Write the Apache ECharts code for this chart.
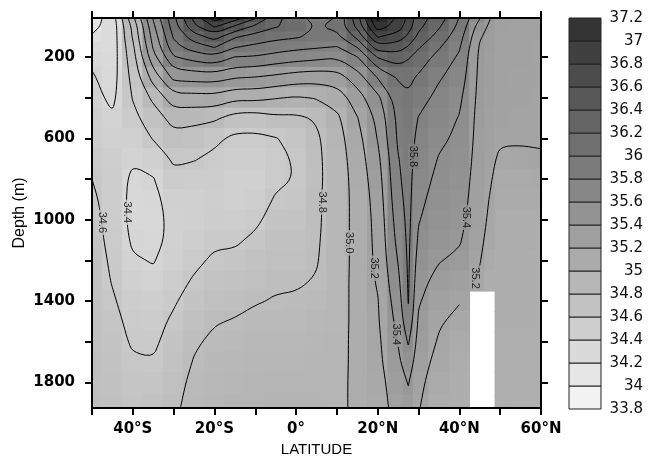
<!DOCTYPE html>
<html>
<head>
<meta charset="utf-8">
<title>Salinity section</title>
<script src="https://cdn.jsdelivr.net/npm/echarts@6/dist/echarts.min.js"></script>
<style>
  html, body { margin: 0; padding: 0; background: #fff; }
  #chart { width: 650px; height: 464px; }
</style>
</head>
<body>
<div id="chart"></div>
<script>
// grid nodes of the section
var lats = [-50, -45, -40, -35, -30, -25, -20, -15, -10, -5, 0, 5, 10, 15, 20, 25, 27.5, 30, 35, 40, 45, 47.5, 50, 55, 60];
var depths = [7, 50, 100, 150, 200, 300, 400, 500, 600, 700, 800, 900, 1000, 1100, 1200, 1300, 1400, 1500, 1600, 1700, 1800, 1925];

// salinity profiles, one per latitude (same order as lats), values at each depth
var salinity = [
  [34.10, 34.15, 34.22, 34.30, 34.36, 34.42, 34.46, 34.50, 34.53, 34.57, 34.60, 34.63, 34.65, 34.67, 34.69, 34.70, 34.71, 34.72, 34.73, 34.74, 34.75, 34.76], // 50S
  [34.30, 34.28, 34.28, 34.29, 34.30, 34.32, 34.36, 34.42, 34.46, 34.50, 34.52, 34.53, 34.54, 34.55, 34.57, 34.59, 34.62, 34.65, 34.67, 34.70, 34.72, 34.74], // 45S
  [34.95, 34.85, 34.82, 34.76, 34.72, 34.66, 34.61, 34.55, 34.48, 34.42, 34.36, 34.34, 34.34, 34.37, 34.42, 34.47, 34.52, 34.55, 34.58, 34.62, 34.65, 34.68], // 40S
  [35.62, 35.55, 35.48, 35.42, 35.33, 35.08, 34.84, 34.70, 34.61, 34.47, 34.39, 34.35, 34.34, 34.35, 34.39, 34.44, 34.50, 34.54, 34.57, 34.61, 34.66, 34.70], // 35S
  [36.15, 36.10, 36.02, 35.93, 35.78, 35.45, 35.12, 34.87, 34.74, 34.63, 34.55, 34.48, 34.45, 34.45, 34.48, 34.53, 34.58, 34.63, 34.67, 34.71, 34.74, 34.77], // 30S
  [36.65, 36.55, 36.30, 36.10, 35.88, 35.47, 35.12, 34.86, 34.70, 34.61, 34.53, 34.48, 34.47, 34.50, 34.56, 34.62, 34.68, 34.73, 34.78, 34.81, 34.84, 34.86], // 25S
  [37.10, 36.81, 36.48, 36.21, 35.95, 35.48, 35.13, 34.83, 34.64, 34.56, 34.52, 34.51, 34.52, 34.57, 34.63, 34.69, 34.75, 34.79, 34.83, 34.86, 34.88, 34.90], // 20S
  [36.90, 36.56, 36.22, 36.01, 35.79, 35.41, 35.04, 34.72, 34.56, 34.50, 34.48, 34.48, 34.50, 34.57, 34.65, 34.70, 34.76, 34.81, 34.85, 34.88, 34.90, 34.92], // 15S
  [36.62, 36.35, 36.12, 35.95, 35.78, 35.39, 35.05, 34.70, 34.56, 34.50, 34.48, 34.50, 34.56, 34.64, 34.70, 34.75, 34.79, 34.84, 34.87, 34.89, 34.91, 34.93], // 10S
  [36.25, 36.21, 36.05, 35.90, 35.72, 35.35, 35.01, 34.76, 34.59, 34.55, 34.56, 34.62, 34.68, 34.72, 34.75, 34.78, 34.81, 34.84, 34.87, 34.90, 34.92, 34.94], // 5S
  [36.10, 36.15, 36.02, 35.85, 35.68, 35.30, 34.98, 34.76, 34.66, 34.62, 34.61, 34.64, 34.68, 34.72, 34.75, 34.78, 34.82, 34.85, 34.88, 34.90, 34.92, 34.94], // 0
  [35.90, 35.98, 35.95, 35.82, 35.65, 35.28, 35.01, 34.82, 34.77, 34.76, 34.76, 34.77, 34.77, 34.78, 34.79, 34.81, 34.84, 34.87, 34.89, 34.91, 34.93, 34.95], // 5N
  [36.02, 36.05, 35.95, 35.79, 35.61, 35.31, 35.08, 34.96, 34.92, 34.90, 34.89, 34.89, 34.89, 34.89, 34.89, 34.90, 34.90, 34.90, 34.91, 34.91, 34.92, 34.92], // 10N
  [36.52, 36.45, 36.25, 36.01, 35.79, 35.50, 35.31, 35.19, 35.13, 35.10, 35.08, 35.07, 35.07, 35.07, 35.07, 35.07, 35.07, 35.07, 35.07, 35.07, 35.07, 35.07], // 15N
  [37.25, 37.10, 36.81, 36.52, 36.21, 35.81, 35.55, 35.45, 35.41, 35.35, 35.31, 35.28, 35.26, 35.25, 35.24, 35.22, 35.19, 35.18, 35.16, 35.15, 35.13, 35.12], // 20N
  [36.95, 36.90, 36.71, 36.49, 36.31, 36.02, 35.91, 35.85, 35.83, 35.79, 35.77, 35.74, 35.70, 35.66, 35.61, 35.56, 35.51, 35.46, 35.41, 35.36, 35.31, 35.27], // 25N
  [36.75, 36.69, 36.55, 36.38, 36.22, 36.05, 35.97, 35.93, 35.90, 35.88, 35.87, 35.86, 35.85, 35.84, 35.83, 35.82, 35.81, 35.75, 35.62, 35.52, 35.41, 35.35], // 27.5N
  [36.48, 36.45, 36.35, 36.22, 36.12, 35.97, 35.88, 35.79, 35.74, 35.71, 35.67, 35.64, 35.61, 35.57, 35.52, 35.47, 35.42, 35.37, 35.33, 35.28, 35.24, 35.21], // 30N
  [36.31, 36.22, 36.12, 36.02, 35.93, 35.82, 35.74, 35.68, 35.63, 35.59, 35.56, 35.53, 35.50, 35.46, 35.41, 35.33, 35.27, 35.22, 35.18, 35.14, 35.11, 35.08], // 35N
  [35.99, 35.95, 35.88, 35.82, 35.77, 35.71, 35.64, 35.59, 35.57, 35.54, 35.52, 35.49, 35.46, 35.42, 35.36, 35.28, 35.21, 35.15, 35.10, 35.07, 35.05, 35.04], // 40N
  [35.61, 35.50, 35.42, 35.38, 35.36, 35.35, 35.34, 35.33, 35.32, 35.31, 35.29, 35.28, 35.26, 35.24, 35.21, 35.17, null, null, null, null, null, null], // 45N
  [35.41, 35.36, 35.33, 35.31, 35.29, 35.29, 35.28, 35.27, 35.26, 35.24, 35.22, 35.19, 35.17, 35.14, 35.10, 35.06, null, null, null, null, null, null], // 47.5N
  [35.27, 35.26, 35.25, 35.25, 35.24, 35.24, 35.23, 35.23, 35.22, 35.17, 35.12, 35.09, 35.07, 35.06, 35.05, 35.05, 35.04, 35.04, 35.03, 35.03, 35.03, 35.02], // 50N
  [35.25, 35.25, 35.24, 35.24, 35.24, 35.23, 35.23, 35.22, 35.21, 35.18, 35.12, 35.09, 35.07, 35.06, 35.05, 35.05, 35.04, 35.04, 35.03, 35.03, 35.03, 35.02], // 55N
  [35.24, 35.24, 35.24, 35.23, 35.23, 35.23, 35.22, 35.22, 35.21, 35.19, 35.13, 35.09, 35.07, 35.06, 35.05, 35.05, 35.04, 35.04, 35.03, 35.03, 35.03, 35.02]  // 60N
];

// colour bar steps, also the contour levels
var levels = [33.8, 34.0, 34.2, 34.4, 34.6, 34.8, 35.0, 35.2, 35.4, 35.6, 35.8, 36.0, 36.2, 36.4, 36.6, 36.8, 37.0, 37.2];
var latTicks = [-40, -20, 0, 20, 40, 60];
var latTickText = ['40°S', '20°S', '0°', '20°N', '40°N', '60°N'];
var depthTicks = [200, 400, 600, 800, 1000, 1200, 1400, 1600, 1800];
var depthLabels = [200, 600, 1000, 1400, 1800];
// contour labels: level, and roughly where along the line it sits (lat, depth)
var contourLabels = [
  [34.6, -48.5, 1010], [34.4, -41.5, 960], [34.8, 6.5, 920], [35.0, 13.5, 1120],
  [35.2, 18.5, 1240], [35.4, 24.5, 1560], [35.8, 27, 690], [35.4, 41.5, 1000], [35.2, 40, 1250]
];

function gray(v) {
  var g = Math.round(242 - (v - 33.9) * 59.375);
  g = Math.max(40, Math.min(245, g));
  return 'rgb(' + g + ',' + g + ',' + g + ')';
}

// shaded cells around each grid node
var cellData = [];
for (var i = 0; i < lats.length; i++) {
  for (var j = 0; j < depths.length; j++) {
    var v = salinity[i][j];
    if (v == null) continue;
    var x0 = i === 0 ? lats[0] : (lats[i - 1] + lats[i]) / 2;
    var x1 = i === lats.length - 1 ? lats[i] : (lats[i] + lats[i + 1]) / 2;
    var y0 = j === 0 ? depths[0] : (depths[j - 1] + depths[j]) / 2;
    var y1 = j === depths.length - 1 ? depths[j] : (depths[j] + depths[j + 1]) / 2;
    cellData.push([x0, y0, x1, y1, v]);
  }
}

// marching squares on the node grid
function contourSegments(L) {
  var segs = [];
  for (var i = 0; i < lats.length - 1; i++) {
    for (var j = 0; j < depths.length - 1; j++) {
      var a = salinity[i][j], b = salinity[i + 1][j], c = salinity[i + 1][j + 1], d = salinity[i][j + 1];
      if (a == null || b == null || c == null || d == null) continue;
      var top = null, right = null, bottom = null, left = null;
      if ((a >= L) !== (b >= L)) {
        var t = (L - a) / (b - a);
        top = { key: 'h' + i + '_' + j, p: [lats[i] + t * (lats[i + 1] - lats[i]), depths[j]] };
      }
      if ((b >= L) !== (c >= L)) {
        var t2 = (L - b) / (c - b);
        right = { key: 'v' + (i + 1) + '_' + j, p: [lats[i + 1], depths[j] + t2 * (depths[j + 1] - depths[j])] };
      }
      if ((d >= L) !== (c >= L)) {
        var t3 = (L - d) / (c - d);
        bottom = { key: 'h' + i + '_' + (j + 1), p: [lats[i] + t3 * (lats[i + 1] - lats[i]), depths[j + 1]] };
      }
      if ((a >= L) !== (d >= L)) {
        var t4 = (L - a) / (d - a);
        left = { key: 'v' + i + '_' + j, p: [lats[i], depths[j] + t4 * (depths[j + 1] - depths[j])] };
      }
      var e = [top, right, bottom, left].filter(function (x) { return x; });
      if (e.length === 2) {
        segs.push([e[0], e[1]]);
      } else if (e.length === 4) {
        var centre = (a + b + c + d) / 4;
        if ((centre >= L) === (a >= L)) {
          segs.push([top, right]); segs.push([bottom, left]);
        } else {
          segs.push([top, left]); segs.push([right, bottom]);
        }
      }
    }
  }
  return segs;
}

function chainSegments(segs) {
  var byKey = {}, used = [], lines = [];
  segs.forEach(function (s, n) {
    s.forEach(function (q) { (byKey[q.key] = byKey[q.key] || []).push(n); });
  });
  function extend(pts) {
    while (true) {
      var last = pts[pts.length - 1];
      var cand = byKey[last.key].filter(function (n) { return !used[n]; });
      if (!cand.length) break;
      used[cand[0]] = true;
      var s = segs[cand[0]];
      pts.push(s[0].key === last.key ? s[1] : s[0]);
    }
  }
  for (var n = 0; n < segs.length; n++) {
    if (used[n]) continue;
    used[n] = true;
    var pts = [segs[n][0], segs[n][1]];
    extend(pts);
    pts.reverse();
    extend(pts);
    var closed = pts.length > 2 && pts[0].key === pts[pts.length - 1].key;
    lines.push(smooth(pts.map(function (q) { return q.p; }), closed));
  }
  return lines;
}

// two rounds of corner cutting so the lines are not angular
function smooth(pts, closed) {
  if (closed) pts = pts.slice(0, -1);
  for (var r = 0; r < 2; r++) {
    var n = pts.length;
    if (n < 3) break;
    var out = closed ? [] : [pts[0]];
    var m = closed ? n : n - 1;
    for (var k = 0; k < m; k++) {
      var a = pts[k], b = pts[(k + 1) % n];
      out.push([0.75 * a[0] + 0.25 * b[0], 0.75 * a[1] + 0.25 * b[1]]);
      out.push([0.25 * a[0] + 0.75 * b[0], 0.25 * a[1] + 0.75 * b[1]]);
    }
    if (!closed) out.push(pts[n - 1]);
    pts = out;
  }
  if (closed) pts = pts.concat([pts[0]]);
  return pts;
}

var contourLines = [];
var linesByLevel = {};
levels.slice(1).forEach(function (L) {
  var ls = chainSegments(contourSegments(L));
  linesByLevel[L.toFixed(1)] = ls;
  ls.forEach(function (c) { contourLines.push({ coords: c }); });
});

// put each label on the nearest point of its contour
var labelData = [];
contourLabels.forEach(function (cl) {
  var ls = linesByLevel[cl[0].toFixed(1)] || [];
  var best = null, bestD = Infinity;
  ls.forEach(function (line) {
    line.forEach(function (p) {
      var dx = (p[0] - cl[1]) * 4.08, dy = (p[1] - cl[2]) * 0.203;
      var dd = dx * dx + dy * dy;
      if (dd < bestD) { bestD = dd; best = p; }
    });
  });
  if (best) {
    labelData.push({
      value: best,
      label: { formatter: cl[0].toFixed(1), backgroundColor: gray(cl[0]) }
    });
  }
});

var bands = [];
for (var k = 0; k < levels.length - 1; k++) bands.push([levels[k], levels[k + 1]]);

var frameLine = { show: true, onZero: false, lineStyle: { color: '#000', width: 2 } };
var frameTick = { show: true, length: 7, lineStyle: { color: '#000', width: 2 } };
var tickFont = { fontFamily: 'DejaVu Sans', fontWeight: 'bold', fontSize: 15, color: '#000' };

var chart = echarts.init(document.getElementById('chart'));
chart.setOption({
  animation: false,
  backgroundColor: '#fff',
  grid: [
    { left: 92, right: 109, top: 18, bottom: 56, containLabel: false, outerBoundsMode: 'none' },
    { left: 569, right: 49, top: 18, bottom: 55, containLabel: false, outerBoundsMode: 'none' }
  ],
  xAxis: [
    {
      gridIndex: 0, type: 'value', position: 'bottom', min: -50, max: 60, interval: 10, z: 10,
      axisLine: frameLine, axisTick: frameTick, splitLine: { show: false },
      axisLabel: Object.assign({
        customValues: latTicks, margin: 14,
        formatter: function (v) { var n = latTicks.indexOf(v); return n < 0 ? '' : latTickText[n]; }
      }, tickFont),
      name: 'LATITUDE', nameLocation: 'middle', nameGap: 34, nameMoveOverlap: false,
      nameTextStyle: { fontFamily: 'Liberation Sans', fontSize: 15, color: '#000' }
    },
    {
      gridIndex: 0, type: 'value', position: 'top', min: -50, max: 60, interval: 10, z: 10,
      axisLine: frameLine, axisTick: frameTick, axisLabel: { show: false }, splitLine: { show: false }
    },
    { gridIndex: 1, type: 'value', min: 0, max: 1, show: false }
  ],
  yAxis: [
    {
      gridIndex: 0, type: 'value', position: 'left', inverse: true, min: 7, max: 1925, z: 10,
      axisLine: frameLine, splitLine: { show: false },
      axisTick: Object.assign({ customValues: depthTicks }, frameTick),
      axisLabel: Object.assign({
        customValues: depthLabels, margin: 17,
        formatter: function (v) { return String(Math.round(v)); }
      }, tickFont),
      name: 'Depth (m)', nameLocation: 'middle', nameGap: 64, nameMoveOverlap: false,
      nameTextStyle: { fontFamily: 'Liberation Sans', fontSize: 16, color: '#000' }
    },
    {
      gridIndex: 0, type: 'value', position: 'right', inverse: true, min: 7, max: 1925, z: 10,
      axisLine: frameLine, splitLine: { show: false },
      axisTick: Object.assign({ customValues: depthTicks }, frameTick),
      axisLabel: { show: false }
    },
    {
      gridIndex: 1, type: 'value', position: 'right', min: 33.8, max: 37.2,
      axisLine: { show: false }, axisTick: { show: false }, splitLine: { show: false },
      axisLabel: {
        customValues: levels, margin: 42, align: 'right',
        fontFamily: 'DejaVu Sans', fontSize: 15, color: '#111',
        formatter: function (v) { return String(+(+v).toFixed(1)); }
      }
    }
  ],
  series: [
    {
      type: 'custom', xAxisIndex: 0, yAxisIndex: 0, silent: true, clip: true, z: 1,
      data: cellData,
      renderItem: function (params, api) {
        var p0 = api.coord([api.value(0), api.value(1)]);
        var p1 = api.coord([api.value(2), api.value(3)]);
        return {
          type: 'rect',
          shape: {
            x: Math.min(p0[0], p1[0]) - 0.5, y: Math.min(p0[1], p1[1]) - 0.5,
            width: Math.abs(p1[0] - p0[0]) + 1, height: Math.abs(p1[1] - p0[1]) + 1
          },
          style: { fill: gray(api.value(4)) }
        };
      }
    },
    {
      type: 'lines', coordinateSystem: 'cartesian2d', xAxisIndex: 0, yAxisIndex: 0,
      polyline: true, silent: true, z: 3,
      lineStyle: { color: '#000', width: 1, opacity: 1 },
      data: contourLines
    },
    {
      type: 'scatter', xAxisIndex: 0, yAxisIndex: 0, symbolSize: 0, silent: true, z: 4,
      label: {
        show: true, position: 'inside', rotate: -90, fontFamily: 'Liberation Sans',
        fontSize: 11, color: '#000', padding: [0, 2]
      },
      data: labelData
    },
    {
      type: 'custom', xAxisIndex: 2, yAxisIndex: 2, silent: true,
      data: bands,
      renderItem: function (params, api) {
        var lo = api.value(0), hi = api.value(1);
        var p0 = api.coord([0, lo]), p1 = api.coord([1, hi]);
        return {
          type: 'rect',
          shape: { x: p0[0], y: p1[1], width: p1[0] - p0[0], height: p0[1] - p1[1] },
          style: { fill: gray((lo + hi) / 2), stroke: '#222', lineWidth: 1 }
        };
      }
    }
  ]
});
</script>
</body>
</html>
